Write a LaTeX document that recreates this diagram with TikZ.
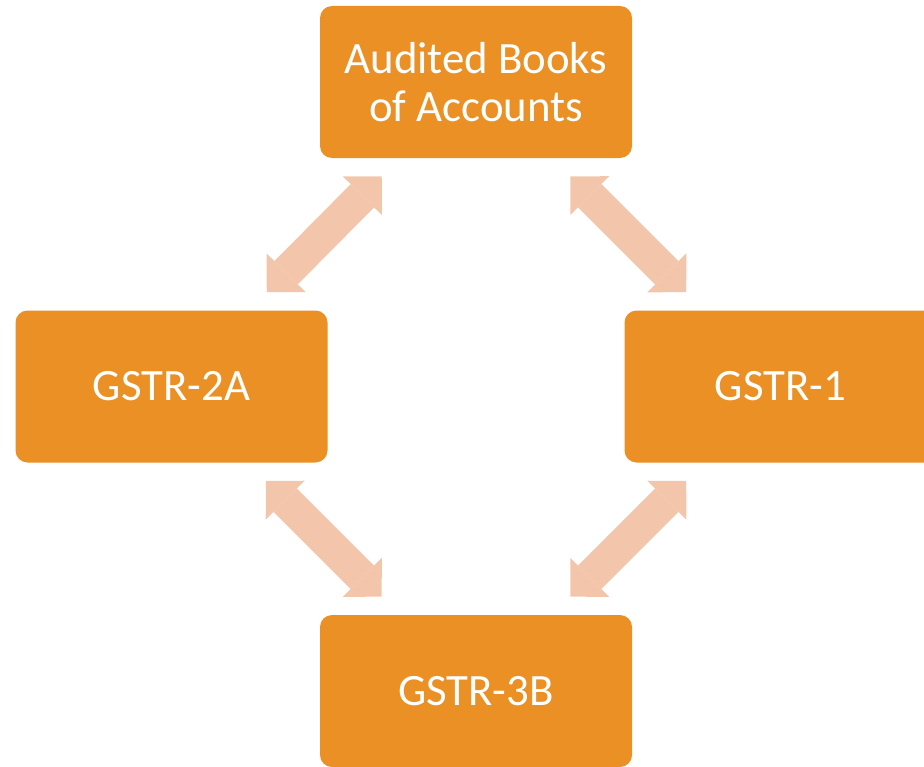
\documentclass[tikz,border=0pt]{standalone}
\usepackage{fontspec}
\setmainfont{Carlito}
\usetikzlibrary{calc,arrows.meta}
\definecolor{boxorange}{HTML}{EA9024}
\definecolor{arrowpeach}{HTML}{F3C6AB}
\tikzset{
  gstrbox/.style={fill=boxorange, rounded corners=9pt, inner sep=0pt,
    minimum width=234pt, minimum height=114pt, align=center,
    text=white, font=\fontsize{33.6}{36}\selectfont},
  link/.style={draw=arrowpeach, line width=24.75pt,
    >={Triangle[length=20.6pt, width=41.25pt, line width=0pt]}, <->}
}
\begin{document}
\begin{tikzpicture}[x=0.75pt, y=-0.75pt]
  \useasboundingbox (0,0) rectangle (924,767);

  % boxes
  \node[gstrbox] (books)  at (476,82)      {Audited Books\\of Accounts};
  \node[gstrbox] (gstr2a) at (171.5,386.5) {GSTR-2A};
  \node[gstrbox] (gstr1)  at (780.5,386.5) {GSTR-1};
  \node[gstrbox] (gstr3b) at (476,691)     {GSTR-3B};

  % two-way arrows
  \draw[link] ($(gstr2a.north east)+(-61,-18)$) -- ($(books.south west)+(62,18)$);
  \draw[link] ($(books.south east)+(-62,18)$) -- ($(gstr1.north west)+(62,-18)$);
  \draw[link] ($(gstr2a.south east)+(-62,18)$) -- ($(gstr3b.north west)+(62,-18)$);
  \draw[link] ($(gstr3b.north east)+(-62,-18)$) -- ($(gstr1.south west)+(62,18)$);
\end{tikzpicture}
\end{document}
